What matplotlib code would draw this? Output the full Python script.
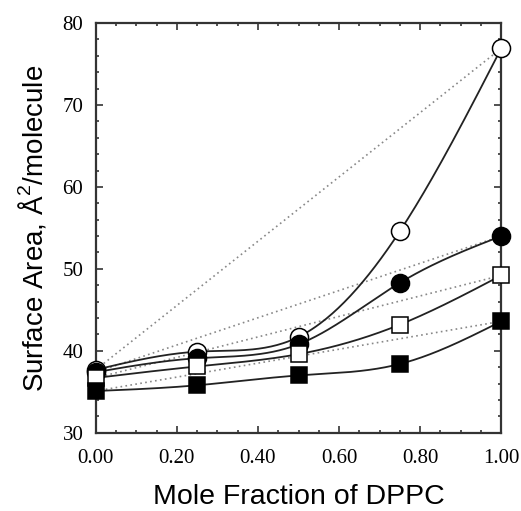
import numpy as np
import matplotlib
matplotlib.use("Agg")
import matplotlib.pyplot as plt
from matplotlib.ticker import MultipleLocator, FormatStrFormatter

# mole fraction of DPPC
x = [0.0, 0.25, 0.50, 0.75, 1.0]

# surface area (A^2/molecule) for the four series
open_circ = [37.7, 39.9, 41.7, 54.6, 76.9]
fill_circ = [37.4, 39.1, 40.8, 48.3, 54.0]
open_sq = [36.7, 38.1, 39.6, 43.2, 49.2]
fill_sq = [35.1, 35.8, 37.0, 38.4, 43.6]


def spline(xs, ys, n=200):
    # natural cubic spline, just for drawing the smooth curve
    xs = np.asarray(xs, float)
    ys = np.asarray(ys, float)
    k = len(xs)
    h = np.diff(xs)
    A = np.zeros((k, k))
    b = np.zeros(k)
    A[0, 0] = A[-1, -1] = 1
    for i in range(1, k - 1):
        A[i, i - 1] = h[i - 1]
        A[i, i] = 2 * (h[i - 1] + h[i])
        A[i, i + 1] = h[i]
        b[i] = 6 * ((ys[i + 1] - ys[i]) / h[i] - (ys[i] - ys[i - 1]) / h[i - 1])
    M = np.linalg.solve(A, b)
    xx = np.linspace(xs[0], xs[-1], n)
    idx = np.clip(np.searchsorted(xs, xx) - 1, 0, k - 2)
    x0, x1 = xs[idx], xs[idx + 1]
    hh = x1 - x0
    t1 = x1 - xx
    t0 = xx - x0
    yy = (M[idx] * t1**3 / (6 * hh) + M[idx + 1] * t0**3 / (6 * hh)
          + (ys[idx] / hh - M[idx] * hh / 6) * t1
          + (ys[idx + 1] / hh - M[idx + 1] * hh / 6) * t0)
    return xx, yy


plt.rcParams['mathtext.fontset'] = 'custom'
plt.rcParams['mathtext.rm'] = 'Liberation Sans'

fig = plt.figure(figsize=(5.21, 5.11), dpi=100)
ax = fig.add_axes([0.184, 0.153, 0.778, 0.802])

series = [(open_circ, 'o', 'white', 13),
          (fill_circ, 'o', 'black', 13),
          (open_sq, 's', 'white', 11),
          (fill_sq, 's', 'black', 11)]

for ys, m, fc, ms in series:
    # ideal mixing line
    ax.plot([x[0], x[-1]], [ys[0], ys[-1]], color='#888888', lw=1.2,
            ls=(0, (1, 2)), zorder=1)
    xx, yy = spline(x, ys)
    ax.plot(xx, yy, color='#222222', lw=1.3, zorder=2)
    ax.plot(x, ys, ls='none', marker=m, mfc=fc, mec='black', mew=1.1,
            ms=ms, zorder=3, clip_on=False)

ax.set_xlim(0, 1)
ax.set_ylim(30, 80)
ax.xaxis.set_major_locator(MultipleLocator(0.2))
ax.xaxis.set_minor_locator(MultipleLocator(0.05))
ax.yaxis.set_major_locator(MultipleLocator(10))
ax.yaxis.set_minor_locator(MultipleLocator(2))
ax.xaxis.set_major_formatter(FormatStrFormatter('%.2f'))

ax.tick_params(which='both', direction='in', top=True, right=True,
               width=1.2, color='#333333')
ax.tick_params(which='major', length=5, labelsize=15, pad=9)
ax.tick_params(axis='x', which='major', pad=12)
ax.tick_params(which='minor', length=2.5)
for lab in ax.get_xticklabels() + ax.get_yticklabels():
    lab.set_family('Liberation Serif')
for s in ax.spines.values():
    s.set_linewidth(1.6)
    s.set_color('#333333')

ax.set_xlabel('Mole Fraction of DPPC', fontsize=20.5,
              family='Liberation Sans', labelpad=11)
ax.set_ylabel('Surface Area, Å$^{2}$/molecule', fontsize=20,
              family='Liberation Sans', labelpad=10)

fig.savefig('out.png', dpi=100)
